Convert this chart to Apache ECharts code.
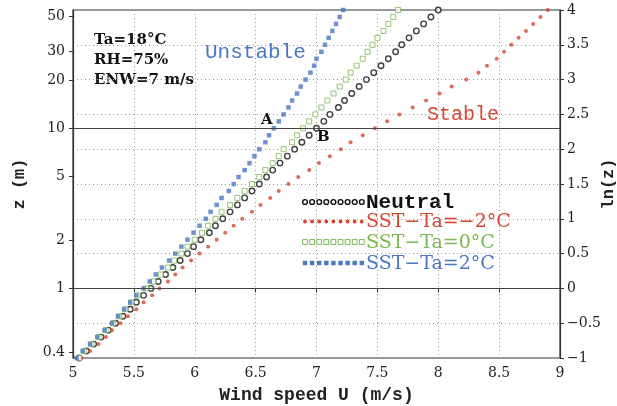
<!DOCTYPE html>
<html>
<head>
<meta charset="utf-8">
<script src="https://cdn.jsdelivr.net/npm/echarts@6.0.0/dist/echarts.min.js"></script>
<style>
  html, body { margin: 0; padding: 0; background: #fff; }
  #chart { width: 617px; height: 406px; }
</style>
</head>
<body>
<div id="chart"></div>
<script>
// ln(z) levels of the profile points (right axis)
const lnZ = [
  -1.0, -0.9, -0.8, -0.7, -0.6, -0.5, -0.4, -0.3, -0.2, -0.1,
  0.0, 0.1, 0.2, 0.3, 0.4, 0.5, 0.6, 0.7, 0.8, 0.9,
  1.0, 1.1, 1.2, 1.3, 1.4, 1.5, 1.6, 1.7, 1.8, 1.9,
  2.0, 2.1, 2.2, 2.3, 2.4, 2.5, 2.6, 2.7, 2.8, 2.9,
  3.0, 3.1, 3.2, 3.3, 3.4, 3.5, 3.6, 3.7, 3.8, 3.9, 4.0
]

// wind speed U (m/s) at each level
const neutral = [
  5.05, 5.11, 5.17, 5.23, 5.29, 5.35, 5.41, 5.47, 5.52, 5.58,
  5.64, 5.70, 5.76, 5.82, 5.88, 5.94, 5.99, 6.05, 6.12, 6.17,
  6.23, 6.29, 6.35, 6.41, 6.47, 6.53, 6.59, 6.64, 6.70, 6.76,
  6.82, 6.88, 6.94, 7.00, 7.06, 7.11, 7.18, 7.23, 7.29, 7.35,
  7.41, 7.47, 7.53, 7.59, 7.65, 7.70, 7.76, 7.82, 7.88, 7.94, 8.00
]
const sstMinus2 = [
  5.07, 5.14, 5.21, 5.27, 5.32, 5.39, 5.45, 5.52, 5.58, 5.65,
  5.71, 5.78, 5.84, 5.90, 5.97, 6.04, 6.11, 6.18, 6.25, 6.32,
  6.39, 6.47, 6.54, 6.62, 6.69, 6.77, 6.85, 6.94, 7.02, 7.11,
  7.20, 7.28, 7.38, 7.48, 7.58, 7.68, 7.79, 7.90, 8.01, 8.11,
  8.23, 8.33, 8.40, 8.48, 8.54, 8.60, 8.66, 8.72, 8.78, 8.84, 8.90
]
const sst0 = [
  5.05, 5.09, 5.15, 5.21, 5.27, 5.33, 5.38, 5.43, 5.48, 5.53,
  5.60, 5.66, 5.72, 5.78, 5.83, 5.89, 5.94, 6.00, 6.06, 6.11,
  6.17, 6.22, 6.29, 6.35, 6.41, 6.47, 6.53, 6.58, 6.64, 6.69,
  6.73, 6.80, 6.84, 6.89, 6.94, 6.99, 7.04, 7.09, 7.14, 7.19,
  7.24, 7.28, 7.33, 7.38, 7.42, 7.46, 7.50, 7.55, 7.59, 7.63, 7.67
]
const sstPlus2 = [
  5.03, 5.08, 5.14, 5.20, 5.26, 5.32, 5.37, 5.42, 5.47, 5.52,
  5.58, 5.63, 5.68, 5.73, 5.79, 5.84, 5.89, 5.94, 5.99, 6.04,
  6.09, 6.13, 6.18, 6.22, 6.28, 6.32, 6.36, 6.41, 6.45, 6.49,
  6.53, 6.58, 6.61, 6.65, 6.69, 6.73, 6.77, 6.80, 6.84, 6.87,
  6.91, 6.95, 6.98, 7.00, 7.04, 7.07, 7.10, 7.13, 7.16, 7.19, 7.22
]

// left axis: heights z (m) labelled at ln(z)
const zTicks = [0.4, 1, 2, 5, 10, 20, 30, 50]
// solid reference heights
const zRefLines = [1, 10]

const RED = '#d8432f'
const GREEN = '#79b84f'
const BLUE = '#4a77c4'
const SERIF = '"DejaVu Serif", serif'
const MONO = '"Liberation Mono", "DejaVu Sans Mono", monospace'

const pairs = vals => vals.map((u, i) => [u, lnZ[i]])

const chart = echarts.init(document.getElementById('chart'))

const legendRows = [
  { text: 'Neutral', y: 202, color: '#111', symbol: 'circle', hollow: true, font: MONO, weight: 'bold', size: 21 },
  { text: 'SST\u2212Ta=\u22122\u00b0C', y: 221.5, color: RED, symbol: 'dot', font: SERIF, weight: 'normal', size: 19 },
  { text: 'SST\u2212Ta=0\u00b0C', y: 242, color: GREEN, symbol: 'square', hollow: true, font: SERIF, weight: 'normal', size: 19 },
  { text: 'SST\u2212Ta=2\u00b0C', y: 263, color: BLUE, symbol: 'square', font: SERIF, weight: 'normal', size: 19 }
]

const graphics = []
legendRows.forEach(r => {
  for (let i = 0; i < 9; i++) {
    const cx = 305 + i * 7.1
    if (r.symbol === 'circle') {
      graphics.push({ type: 'circle', shape: { cx, cy: r.y, r: 2.4 }, style: { fill: '#fff', stroke: r.color, lineWidth: 1.4 } })
    } else if (r.symbol === 'dot') {
      graphics.push({ type: 'circle', shape: { cx, cy: r.y, r: 1.9 }, style: { fill: r.color } })
    } else if (r.hollow) {
      graphics.push({ type: 'rect', shape: { x: cx - 2.4, y: r.y - 2.4, width: 4.8, height: 4.8 }, style: { fill: '#fff', stroke: r.color, lineWidth: 1 } })
    } else {
      graphics.push({ type: 'rect', shape: { x: cx - 2.2, y: r.y - 2.2, width: 4.4, height: 4.4 }, style: { fill: r.color } })
    }
  }
  graphics.push({
    type: 'text',
    style: { text: r.text, x: 366, y: r.y + 1, fill: r.color, fontFamily: r.font, fontWeight: r.weight, fontSize: r.size, verticalAlign: 'middle' }
  })
})

const note = (text, x, y, opts) => ({
  type: 'text',
  style: Object.assign({ text, x, y, fill: '#111', fontFamily: SERIF, fontWeight: 'bold', fontSize: 15, verticalAlign: 'middle' }, opts)
})
graphics.push(
  note('Ta=18\u00b0C', 94, 40),
  note('RH=75%', 94, 60),
  note('ENW=7 m/s', 94, 80),
  note('Unstable', 205, 52, { fill: BLUE, fontFamily: MONO, fontWeight: 'normal', fontSize: 21 }),
  note('Stable', 427, 115, { fill: RED, fontFamily: MONO, fontWeight: 'normal', fontSize: 20 }),
  note('A', 261, 120),
  note('B', 317, 137)
)

const markerSeries = (name, vals, symbol, size, itemStyle) => ({
  name,
  type: 'scatter',
  symbol,
  symbolSize: size,
  data: pairs(vals),
  itemStyle,
  silent: true
})

const nameStyle = { fontFamily: MONO, fontWeight: 'bold', fontSize: 18, color: '#222' }

const option = {
  animation: false,
  backgroundColor: '#fff',
  grid: {
    left: 73, right: 57, top: 10, bottom: 48,
    outerBoundsMode: 'none', containLabel: false,
    show: true, borderColor: '#333', borderWidth: 1.2, backgroundColor: 'transparent'
  },
  xAxis: {
    type: 'value', min: 5, max: 9, interval: 0.5,
    name: 'Wind speed U (m/s)', nameLocation: 'middle', nameGap: 28, nameMoveOverlap: false,
    nameTextStyle: nameStyle,
    axisLine: { lineStyle: { color: '#333', width: 1.2 } },
    axisTick: { show: true, length: 4, lineStyle: { color: '#333' } },
    axisLabel: {
      margin: 8, fontFamily: SERIF, fontSize: 14, color: '#222',
      formatter: v => String(v)
    },
    splitLine: { show: true, lineStyle: { color: '#999', type: [1, 3], width: 1 } }
  },
  yAxis: [
    {
      type: 'value', min: -1, max: 4, interval: 0.5, position: 'right',
      name: 'ln(z)', nameLocation: 'middle', nameGap: 40, nameRotate: 90, nameMoveOverlap: false,
      nameTextStyle: Object.assign({}, nameStyle, { fontSize: 17 }),
      axisLine: { show: true, lineStyle: { color: '#333', width: 1.2 } },
      axisTick: { show: true, length: 4, lineStyle: { color: '#333' } },
      axisLabel: {
        margin: 7, fontFamily: SERIF, fontSize: 14, color: '#222',
        formatter: v => (v < 0 ? '\u2212' + Math.abs(v) : String(v))
      },
      splitLine: { show: true, lineStyle: { color: '#999', type: [1, 3], width: 1 } }
    },
    {
      type: 'value', min: -1, max: 4, position: 'left',
      name: 'z (m)', nameLocation: 'middle', nameGap: 45, nameRotate: 90, nameMoveOverlap: false,
      nameTextStyle: Object.assign({}, nameStyle, { fontSize: 17 }),
      axisLine: { show: true, lineStyle: { color: '#333', width: 1.2 } },
      axisTick: { show: true, length: 4, lineStyle: { color: '#333' }, customValues: zTicks.map(Math.log) },
      axisLabel: {
        margin: 8, fontFamily: SERIF, fontSize: 14, color: '#222',
        customValues: zTicks.map(Math.log),
        formatter: v => String(+Math.exp(v).toFixed(1))
      },
      splitLine: { show: false }
    }
  ],
  series: [
    Object.assign(markerSeries('Neutral', neutral, 'circle', 5.5, { color: '#fff', borderColor: '#111', borderWidth: 1.4 }), {
      markLine: {
        silent: true, symbol: 'none', label: { show: false },
        lineStyle: { color: '#444', type: 'solid', width: 1.2 },
        data: zRefLines.map(z => ({ yAxis: Math.log(z) }))
      }
    }),
    markerSeries('SST-Ta=-2', sstMinus2, 'circle', 4, { color: RED }),
    markerSeries('SST-Ta=0', sst0, 'rect', 5, { color: '#fff', borderColor: GREEN, borderWidth: 1 }),
    markerSeries('SST-Ta=2', sstPlus2, 'rect', 4.5, { color: BLUE })
  ],
  graphic: graphics
}

chart.setOption(option)
</script>
</body>
</html>
